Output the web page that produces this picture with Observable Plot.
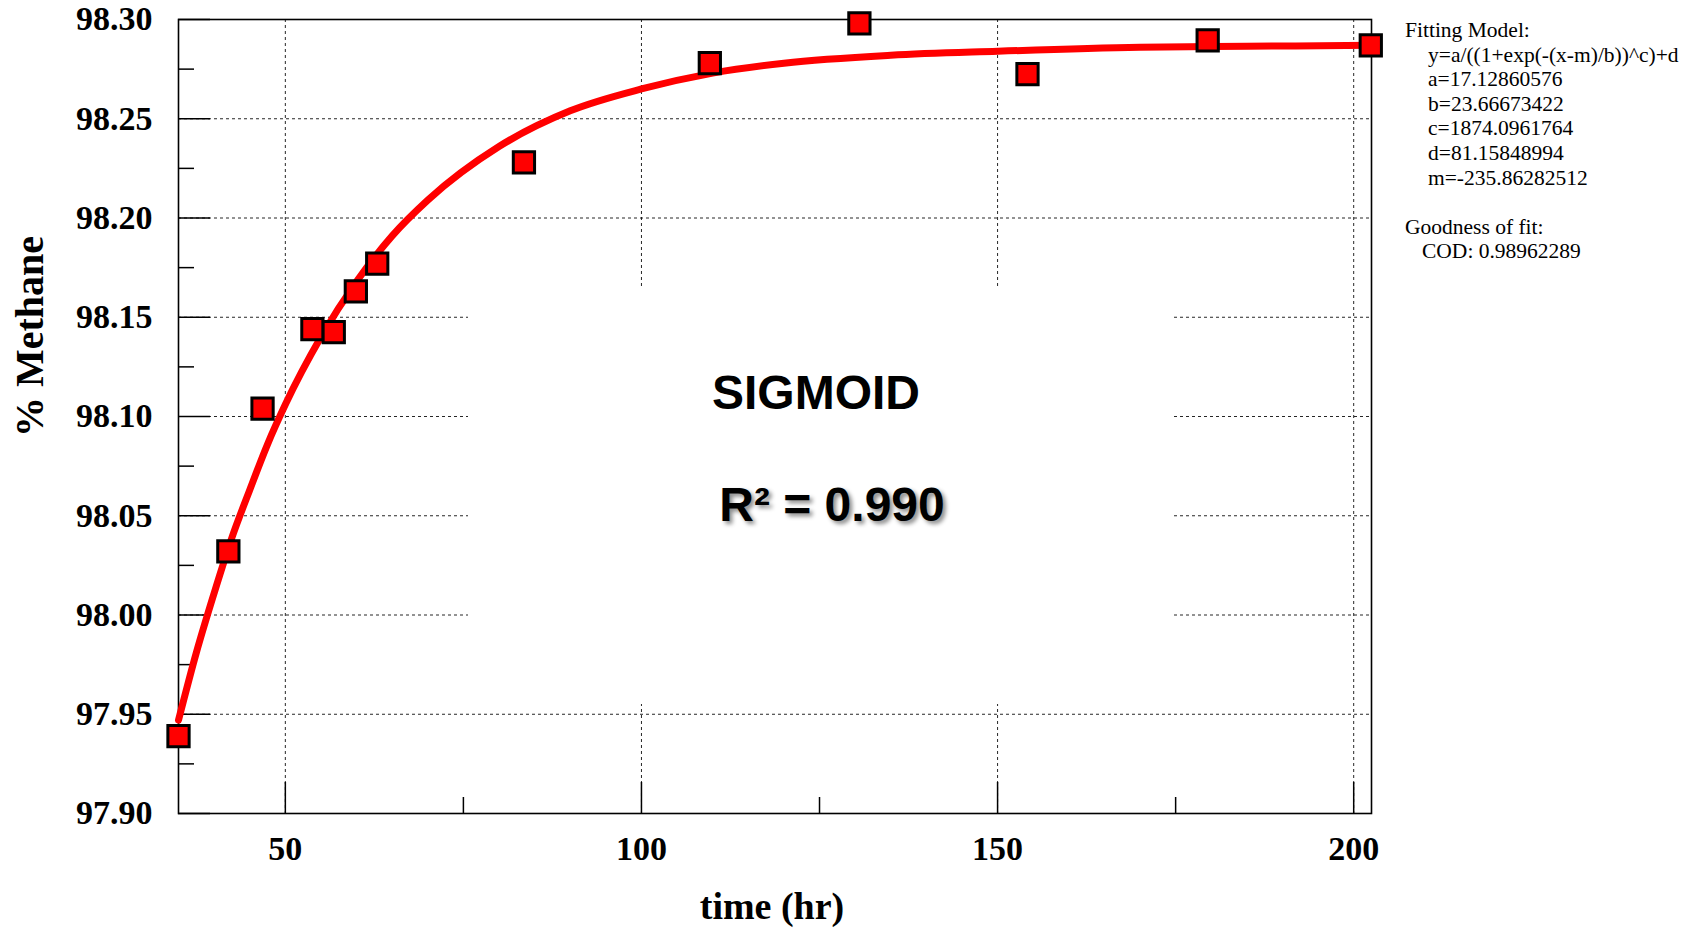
<!DOCTYPE html>
<html>
<head>
<meta charset="utf-8">
<script src="https://cdn.jsdelivr.net/npm/d3@7"></script>
<script src="https://cdn.jsdelivr.net/npm/@observablehq/plot@0.6"></script>
<style>
  html, body { margin: 0; padding: 0; background: #fff; }
  #wrap { position: relative; width: 1699px; height: 928px; overflow: hidden; }
  #box { position: absolute; left: 468px; top: 287px; width: 704px; height: 417px; background: #fff; }
  .big { position: absolute; transform: translate(-50%, -50%); font-family: "Liberation Sans", Arial, sans-serif; font-weight: bold; font-size: 48px; white-space: nowrap; color: #000; }
  #side { position: absolute; left: 1405px; top: 18px; font-family: "Liberation Serif", "Times New Roman", serif; font-size: 21.5px; line-height: 24.6px; color: #000; white-space: pre; }
</style>
</head>
<body>
<div id="wrap"></div>
<script>
// ---- data ----
const timeHr = [35, 42, 46.8, 53.8, 56.8, 59.9, 62.9, 83.5, 109.6, 130.6, 154.2, 179.5, 202.4];
const methanePct = [97.939, 98.032, 98.104, 98.144, 98.1425, 98.163, 98.177, 98.228, 98.278, 98.298, 98.2725, 98.2895, 98.287];

// fitted sigmoid curve as drawn in the reference (sampled)
const fitTime = [35, 37.5, 40, 42.5, 45, 47.5, 50, 55, 60, 65, 70, 80, 90, 100, 110, 120, 135, 150, 170, 185, 202.5];
const fitMethane = [97.947, 97.981, 98.011, 98.039, 98.063, 98.086, 98.106, 98.140, 98.168, 98.191, 98.209, 98.236, 98.254, 98.265, 98.273, 98.278, 98.282, 98.284, 98.286, 98.2865, 98.287];

const xMajorTicks = [50, 100, 150, 200];
const xMinorTicks = [75, 125, 175];
const yMajorTicks = [97.90, 97.95, 98.00, 98.05, 98.10, 98.15, 98.20, 98.25, 98.30];
const yMinorTicks = [97.925, 97.975, 98.025, 98.075, 98.125, 98.175, 98.225, 98.275];

const xLabel = "time (hr)";
const yLabel = "% Methane";
const fitLines = [
  ["Fitting Model:", 0],
  ["y=a/((1+exp(-(x-m)/b))^c)+d", 23],
  ["a=17.12860576", 23],
  ["b=23.66673422", 23],
  ["c=1874.0961764", 23],
  ["d=81.15848994", 23],
  ["m=-235.86282512", 23],
  ["", 0],
  ["Goodness of fit:", 0],
  ["COD: 0.98962289", 17]
];
const modelName = "SIGMOID";
const r2Text = "R\u00B2 = 0.990";

// ---- build ----
const points = timeHr.map((t, i) => ({t, v: methanePct[i]}));
const fit = fitTime.map((t, i) => ({t, v: fitMethane[i]}));
const blank = () => "";

const chart = Plot.plot({
  width: 1699,
  height: 928,
  marginLeft: 178,
  marginRight: 328,
  marginTop: 19,
  marginBottom: 115,
  style: {fontFamily: "'Liberation Serif', 'Times New Roman', serif", fontWeight: "bold", fontSize: "34px", background: "#fff", color: "#000"},
  x: {domain: [35, 202.5]},
  y: {domain: [97.90, 98.30]},
  marks: [
    Plot.gridX(xMajorTicks, {stroke: "#000", strokeOpacity: 0.85, strokeDasharray: "3,3"}),
    Plot.gridY(yMajorTicks, {stroke: "#000", strokeOpacity: 0.85, strokeDasharray: "3,3"}),
    Plot.axisY({ticks: yMajorTicks, tickSize: 0, tickPadding: 26, tickFormat: d3.format(".2f"), label: null, fontSize: 34, fontWeight: "bold"}),
    Plot.axisY({ticks: yMajorTicks, tickSize: -32, tickFormat: blank, label: null, strokeWidth: 1.5}),
    Plot.axisY({ticks: yMinorTicks, tickSize: -16, tickFormat: blank, label: null, strokeWidth: 1.5}),
    Plot.axisX({ticks: xMajorTicks, tickSize: 0, tickPadding: 22, tickFormat: d3.format("d"), label: null, fontSize: 34, fontWeight: "bold"}),
    Plot.axisX({ticks: xMajorTicks, tickSize: -31, tickFormat: blank, label: null, strokeWidth: 1.5}),
    Plot.axisX({ticks: xMinorTicks, tickSize: -16, tickFormat: blank, label: null, strokeWidth: 1.5}),
    Plot.frame({stroke: "#000", strokeWidth: 1.6}),
    Plot.line(fit, {x: "t", y: "v", stroke: "#ff0000", strokeWidth: 7, curve: "monotone-x"}),
    Plot.dot(points, {x: "t", y: "v", symbol: "square", r: 12, fill: "#ff0000", stroke: "#000", strokeWidth: 3}),
    Plot.text([xLabel], {text: d => d, frameAnchor: "bottom", dx: -3, dy: 93, fontSize: 38, fontWeight: "bold", lineAnchor: "middle", textAnchor: "middle"}),
    Plot.text([yLabel], {text: d => d, frameAnchor: "left", dx: -148, dy: -80, rotate: -90, fontSize: 40, fontWeight: "bold", lineAnchor: "middle", textAnchor: "middle"})
  ]
});

const wrap = document.getElementById("wrap");
wrap.appendChild(chart);

const box = document.createElement("div");
box.id = "box";
wrap.appendChild(box);

const t1 = document.createElement("div");
t1.className = "big";
t1.style.left = "816px";
t1.style.top = "392px";
t1.textContent = modelName;
wrap.appendChild(t1);

const t2 = document.createElement("div");
t2.className = "big";
t2.style.left = "832px";
t2.style.top = "504px";
t2.style.textShadow = "3px 3px 4px rgba(0,0,0,0.45)";
t2.textContent = r2Text;
wrap.appendChild(t2);

const side = document.createElement("div");
side.id = "side";
fitLines.forEach(([txt, indent]) => {
  const line = document.createElement("div");
  line.style.paddingLeft = indent + "px";
  line.style.height = "24.6px";
  line.textContent = txt;
  side.appendChild(line);
});
wrap.appendChild(side);
</script>
</body>
</html>
